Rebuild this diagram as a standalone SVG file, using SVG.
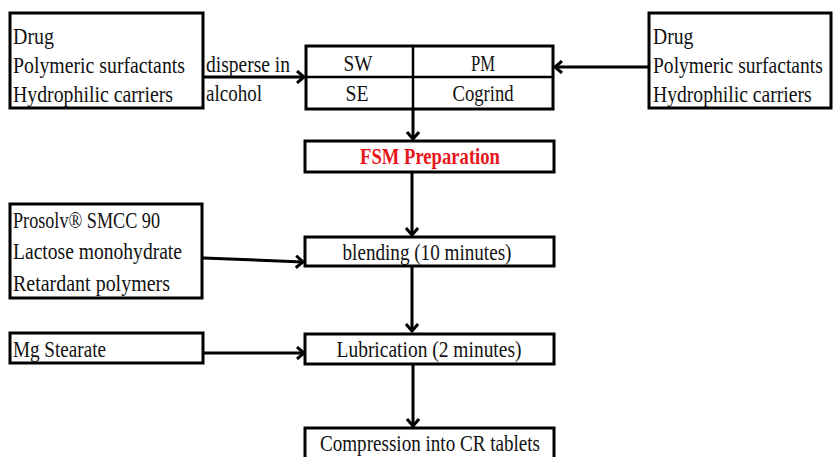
<svg xmlns="http://www.w3.org/2000/svg" width="833" height="457" viewBox="0 0 833 457">
<defs>
<marker id="ah" markerWidth="12" markerHeight="14" refX="9" refY="7" orient="auto" markerUnits="userSpaceOnUse">
<polyline points="2,1 9,7 2,13" fill="none" stroke="#000" stroke-width="3"/>
</marker>
<style>
.box{fill:#fff;stroke:#000;stroke-width:3}
.t{font-family:"Liberation Serif","DejaVu Serif",serif;font-size:23px;fill:#111}
.c{text-anchor:middle}
.ar{fill:none;stroke:#000;stroke-width:3;marker-end:url(#ah)}
</style>
</defs>
<rect width="833" height="457" fill="#fff"/>
<g id="connectors">
<path class="ar" d="M203,77 L304,77"/>
<path class="ar" d="M649,67 L555,67"/>
<path class="ar" d="M413,109 L413,139"/>
<path class="ar" d="M412,173 L412,235"/>
<path class="ar" d="M203,258 L303,262"/>
<path class="ar" d="M412,267 L412,331"/>
<path class="ar" d="M203,353 L304,353"/>
<path class="ar" d="M413,365 L413,426"/>
</g>
<g id="ingredients1">
<rect class="box" x="10" y="13" width="193" height="95"/>
<text class="t" x="13" y="44" textLength="41" lengthAdjust="spacingAndGlyphs">Drug</text>
<text class="t" x="13" y="73" textLength="172" lengthAdjust="spacingAndGlyphs">Polymeric surfactants</text>
<text class="t" x="13" y="102" textLength="160" lengthAdjust="spacingAndGlyphs">Hydrophilic carriers</text>
</g>
<g id="label-disperse">
<text class="t" x="206" y="72" textLength="84" lengthAdjust="spacingAndGlyphs">disperse in</text>
<text class="t" x="206" y="101" textLength="56" lengthAdjust="spacingAndGlyphs">alcohol</text>
</g>
<g id="methods">
<rect class="box" x="306" y="46" width="247" height="63"/>
<line x1="306" y1="77" x2="553" y2="77" stroke="#000" stroke-width="2.5"/>
<line x1="413" y1="46" x2="413" y2="109" stroke="#000" stroke-width="2.5"/>
<text class="t c" x="358" y="71" textLength="29" lengthAdjust="spacingAndGlyphs">SW</text>
<text class="t c" x="357" y="101" textLength="23" lengthAdjust="spacingAndGlyphs">SE</text>
<text class="t c" x="483" y="71" textLength="24" lengthAdjust="spacingAndGlyphs">PM</text>
<text class="t c" x="483" y="101" textLength="61" lengthAdjust="spacingAndGlyphs">Cogrind</text>
</g>
<g id="ingredients2">
<rect class="box" x="649" y="13" width="182" height="95"/>
<text class="t" transform="translate(653,44) scale(0.855,1)">Drug</text>
<text class="t" transform="translate(653,73) scale(0.85,1)">Polymeric surfactants</text>
<text class="t" transform="translate(653,102) scale(0.855,1)">Hydrophilic carriers</text>
</g>
<g id="fsm">
<rect class="box" x="305" y="141" width="249" height="31"/>
<text class="t c" x="430" y="164" style="fill:#e8151b;font-weight:bold" textLength="140" lengthAdjust="spacingAndGlyphs">FSM Preparation</text>
</g>
<g id="excipients">
<rect class="box" x="10" y="204" width="192" height="94"/>
<text class="t" x="13" y="228" textLength="147" lengthAdjust="spacingAndGlyphs">Prosolv® SMCC 90</text>
<text class="t" x="13" y="259" textLength="169" lengthAdjust="spacingAndGlyphs">Lactose monohydrate</text>
<text class="t" x="13" y="291" textLength="157" lengthAdjust="spacingAndGlyphs">Retardant polymers</text>
</g>
<g id="blending">
<rect class="box" x="305" y="237" width="249" height="29"/>
<text class="t c" x="427" y="260" textLength="169" lengthAdjust="spacingAndGlyphs">blending (10 minutes)</text>
</g>
<g id="mg">
<rect class="box" x="10" y="333" width="193" height="30"/>
<text class="t" x="13" y="357" textLength="93" lengthAdjust="spacingAndGlyphs">Mg Stearate</text>
</g>
<g id="lubrication">
<rect class="box" x="305" y="334" width="249" height="30"/>
<text class="t c" x="429" y="357" textLength="185" lengthAdjust="spacingAndGlyphs">Lubrication (2 minutes)</text>
</g>
<g id="compression">
<rect class="box" x="305" y="428" width="249" height="35"/>
<text class="t c" x="430" y="451" textLength="220" lengthAdjust="spacingAndGlyphs">Compression into CR tablets</text>
</g>
</svg>
